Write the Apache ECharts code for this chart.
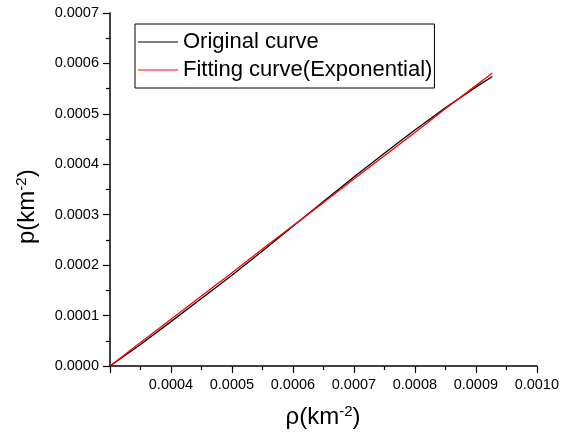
<!DOCTYPE html>
<html>
<head>
<meta charset="utf-8">
<script src="https://cdn.jsdelivr.net/npm/echarts@6/dist/echarts.min.js"></script>
<style>html,body{margin:0;padding:0;background:#fff}#c{width:562px;height:440px}</style>
</head>
<body>
<div id="c"></div>
<script>
var rho = [0.0003, 0.00035, 0.0004, 0.00045, 0.0005, 0.00055, 0.0006, 0.00065, 0.0007, 0.00075, 0.0008, 0.00085, 0.0009, 0.000927];
var originalCurve = [0, 0.0000425, 0.0000880, 0.000134, 0.000180, 0.000228, 0.000277, 0.000326, 0.000375, 0.000422, 0.000468, 0.000512, 0.000553, 0.000574];
var fittingCurve = [0, 0.0000464, 0.0000927, 0.000139, 0.000185, 0.000232, 0.000278, 0.000324, 0.000371, 0.000417, 0.000463, 0.000510, 0.000556, 0.000581];
var seriesNames = ['Original curve', 'Fitting curve(Exponential)'];

var FONT = 'Arial, "Liberation Sans", sans-serif';
function pairs(xs, ys) { return xs.map(function (x, i) { return [x, ys[i]]; }); }

var titleRich = {
  a: {fontFamily: FONT, fontSize: 24, fill: '#000'},
  s: {fontFamily: FONT, fontSize: 15, fill: '#000', padding: [0, 0, 12, 0]}
};

var chart = echarts.init(document.getElementById('c'), null, {renderer: 'canvas'});
chart.setOption({
  animation: false,
  backgroundColor: '#fff',
  grid: {left: 110, right: 21, top: 13, bottom: 74, containLabel: false},
  legend: {
    orient: 'vertical', left: 135, top: 24,
    borderColor: '#000', borderWidth: 1, padding: [7, 2, 7, 3],
    itemGap: 6, itemWidth: 40, itemHeight: 1.2, icon: 'rect',
    textStyle: {fontFamily: FONT, fontSize: 22, color: '#000'},
    data: seriesNames
  },
  xAxis: {
    type: 'value', min: 0.0003, max: 0.0010, interval: 0.0001,
    axisLine: {show: true, lineStyle: {color: '#000', width: 1.5}},
    axisTick: {show: true, inside: false, length: 7, lineStyle: {color: '#000', width: 1.2}},
    minorTick: {show: true, splitNumber: 2, length: 4, lineStyle: {color: '#000', width: 1.2}},
    splitLine: {show: false},
    axisLabel: {showMinLabel: false, margin: 11, fontFamily: FONT, fontSize: 14.5, color: '#000',
      formatter: function (v) { return v.toFixed(4); }}
  },
  yAxis: {
    type: 'value', min: 0, max: 0.0007, interval: 0.0001,
    axisLine: {show: true, lineStyle: {color: '#000', width: 1.5}},
    axisTick: {show: true, inside: false, length: 7, lineStyle: {color: '#000', width: 1.2}},
    minorTick: {show: true, splitNumber: 2, length: 4, lineStyle: {color: '#000', width: 1.2}},
    splitLine: {show: false},
    axisLabel: {margin: 11, fontFamily: FONT, fontSize: 14.5, color: '#000',
      formatter: function (v) { return v.toFixed(4); }}
  },
  graphic: [
    {type: 'text', x: 323, y: 404,
     style: {text: '{a|ρ(km}{s|-2}{a|)}', rich: titleRich, align: 'center'}},
    {type: 'text', rotation: Math.PI / 2, x: 14, y: 244,
     style: {text: '{a|p(km}{s|-2}{a|)}', rich: titleRich}}
  ],
  series: [
    {name: seriesNames[0], type: 'line', data: pairs(rho, originalCurve), showSymbol: false, symbol: 'none',
     lineStyle: {color: '#000', width: 1.3}, itemStyle: {color: '#000'}},
    {name: seriesNames[1], type: 'line', data: pairs(rho, fittingCurve), showSymbol: false, symbol: 'none',
     lineStyle: {color: '#ff0000', width: 1.3}, itemStyle: {color: '#ff0000'}}
  ]
});
</script>
</body>
</html>
